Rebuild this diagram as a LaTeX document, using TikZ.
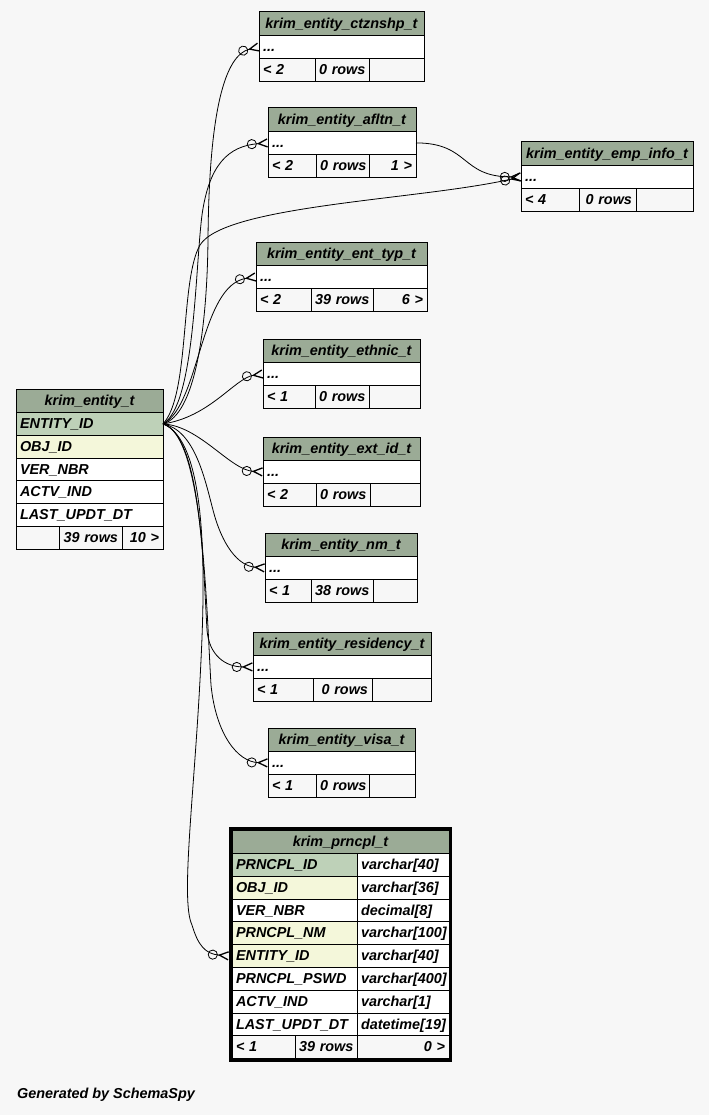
\documentclass[tikz,border=0pt]{standalone}
\usepackage{fontspec}
\setmainfont{Liberation Sans}
\usetikzlibrary{arrows.meta,positioning,fit}

\definecolor{bg}{HTML}{F7F7F7}
\definecolor{headbg}{HTML}{9BAB96}
\definecolor{pkbg}{HTML}{BED1B8}
\definecolor{idxbg}{HTML}{F4F7DA}

\begin{document}
\begin{tikzpicture}[x=1pt, y=-1pt,
    font=\fontsize{14.4}{17}\selectfont\bfseries\itshape,
    cell/.style={draw, line width=1pt, fill=white, anchor=north west, outer sep=0pt,
      inner xsep=4pt, inner ysep=0pt, text width=#1-8pt, align=left,
      minimum height=22.8pt, text height=11pt, text depth=2pt},
    hd/.style={cell=#1, fill=headbg, minimum height=23.5pt, align=center},
    ft/.style={cell=#1, fill=bg},
    ftr/.style={ft=#1, align=right}]
  \fill[bg] (0,0) rectangle (709,1115);
  \useasboundingbox (0,0) rectangle (709,1115);

  \node[hd=147] (ent) at (16,389) {krim\_entity\_t};
  \node[cell=147, fill=pkbg] (entID) at (ent.south west) {ENTITY\_ID};
  \node[cell=147, fill=idxbg] (entOBJ) at (entID.south west) {OBJ\_ID};
  \node[cell=147] (entVER) at (entOBJ.south west) {VER\_NBR};
  \node[cell=147] (entACTV) at (entVER.south west) {ACTV\_IND};
  \node[cell=147] (entLAST) at (entACTV.south west) {LAST\_UPDT\_DT};
  \node[ft=43] (entF1) at (entLAST.south west) {};
  \node[ftr=63] (entF2) at (entF1.north east) {39~rows};
  \node[ftr=41] (entF3) at (entF2.north east) {10~>};

  \node[hd=165] (ctz) at (259,12) {krim\_entity\_ctznshp\_t};
  \node[cell=165] (ctzR) at (ctz.south west) {...};
  \node[ft=56] (ctzF1) at (ctzR.south west) {<~2};
  \node[ftr=54] (ctzF2) at (ctzF1.north east) {0~rows};
  \node[ftr=55] (ctzF3) at (ctzF2.north east) {};

  \node[hd=148] (afl) at (268,108) {krim\_entity\_afltn\_t};
  \node[cell=148] (aflR) at (afl.south west) {...};
  \node[ft=48] (aflF1) at (aflR.south west) {<~2};
  \node[ftr=53] (aflF2) at (aflF1.north east) {0~rows};
  \node[ftr=47] (aflF3) at (aflF2.north east) {1~>};

  \node[hd=172] (emp) at (521,142) {krim\_entity\_emp\_info\_t};
  \node[cell=172] (empR) at (emp.south west) {...};
  \node[ft=58] (empF1) at (empR.south west) {<~4};
  \node[ftr=57] (empF2) at (empF1.north east) {0~rows};
  \node[ftr=57] (empF3) at (empF2.north east) {};

  \node[hd=171] (typ) at (256,242) {krim\_entity\_ent\_typ\_t};
  \node[cell=171] (typR) at (typ.south west) {...};
  \node[ft=55] (typF1) at (typR.south west) {<~2};
  \node[ftr=62] (typF2) at (typF1.north east) {39~rows};
  \node[ftr=54] (typF3) at (typF2.north east) {6~>};

  \node[hd=157] (eth) at (263,339) {krim\_entity\_ethnic\_t};
  \node[cell=157] (ethR) at (eth.south west) {...};
  \node[ft=52] (ethF1) at (ethR.south west) {<~1};
  \node[ftr=54] (ethF2) at (ethF1.north east) {0~rows};
  \node[ftr=51] (ethF3) at (ethF2.north east) {};

  \node[hd=157] (ext) at (263,437) {krim\_entity\_ext\_id\_t};
  \node[cell=157] (extR) at (ext.south west) {...};
  \node[ft=53] (extF1) at (extR.south west) {<~2};
  \node[ftr=54] (extF2) at (extF1.north east) {0~rows};
  \node[ftr=50] (extF3) at (extF2.north east) {};

  \node[hd=152] (nm) at (265,533) {krim\_entity\_nm\_t};
  \node[cell=152] (nmR) at (nm.south west) {...};
  \node[ft=46] (nmF1) at (nmR.south west) {<~1};
  \node[ftr=62] (nmF2) at (nmF1.north east) {38~rows};
  \node[ftr=44] (nmF3) at (nmF2.north east) {};

  \node[hd=178] (res) at (253,632) {krim\_entity\_residency\_t};
  \node[cell=178] (resR) at (res.south west) {...};
  \node[ft=60] (resF1) at (resR.south west) {<~1};
  \node[ftr=59] (resF2) at (resF1.north east) {0~rows};
  \node[ftr=59] (resF3) at (resF2.north east) {};

  \node[hd=147] (visa) at (268,728) {krim\_entity\_visa\_t};
  \node[cell=147] (visaR) at (visa.south west) {...};
  \node[ft=48] (visaF1) at (visaR.south west) {<~1};
  \node[ftr=53] (visaF2) at (visaF1.north east) {0~rows};
  \node[ftr=46] (visaF3) at (visaF2.north east) {};

  \node[hd=217] (prn) at (232,830) {krim\_prncpl\_t};
  \node[cell=125, fill=pkbg] (prnID) at (prn.south west) {PRNCPL\_ID};
  \node[cell=92] (prnIDt) at (prnID.north east) {varchar[40]};
  \node[cell=125, fill=idxbg] (prnOBJ) at (prnID.south west) {OBJ\_ID};
  \node[cell=92] (prnOBJt) at (prnOBJ.north east) {varchar[36]};
  \node[cell=125] (prnVER) at (prnOBJ.south west) {VER\_NBR};
  \node[cell=92] (prnVERt) at (prnVER.north east) {decimal[8]};
  \node[cell=125, fill=idxbg] (prnNM) at (prnVER.south west) {PRNCPL\_NM};
  \node[cell=92] (prnNMt) at (prnNM.north east) {varchar[100]};
  \node[cell=125, fill=idxbg] (prnEID) at (prnNM.south west) {ENTITY\_ID};
  \node[cell=92] (prnEIDt) at (prnEID.north east) {varchar[40]};
  \node[cell=125] (prnPSWD) at (prnEID.south west) {PRNCPL\_PSWD};
  \node[cell=92] (prnPSWDt) at (prnPSWD.north east) {varchar[400]};
  \node[cell=125] (prnACTV) at (prnPSWD.south west) {ACTV\_IND};
  \node[cell=92] (prnACTVt) at (prnACTV.north east) {varchar[1]};
  \node[cell=125] (prnLAST) at (prnACTV.south west) {LAST\_UPDT\_DT};
  \node[cell=92] (prnLASTt) at (prnLAST.north east) {datetime[19]};
  \node[ft=63] (prnF1) at (prnLAST.south west) {<~1};
  \node[ftr=62] (prnF2) at (prnF1.north east) {39~rows};
  \node[ftr=92] (prnF3) at (prnF2.north east) {0~>};
  \node[draw, line width=3pt, inner sep=1.5pt, fit=(prn)(prnF3)] (prnBox) {};

  \node[anchor=base west, inner sep=0pt] (gen) at (17,1098) {Generated by SchemaSpy};

  \tikzset{fk/.style={line width=0.8pt,
      -{Circle[open,length=10pt,width=10pt]Straight Barb[reversed,length=9pt,width=8pt,line width=1.3pt]}}}
  \draw[fk] (entID.east) .. controls (195,415) and (207,330) .. (208,240)
    .. controls (209,110) and (225,55) .. (ctzR.west);
  \draw[fk] (entID.east) .. controls (195,405) and (195,270) .. (202,215)
    .. controls (209,165) and (228,146) .. (aflR.west);
  \draw[fk] (entID.east) .. controls (190,395) and (180,280) .. (200,245)
    .. controls (225,205) and (420,200) .. (empR.west);
  \draw[fk] (aflR.east) .. controls (470,143) and (460,177) .. (empR.west);
  \draw[fk] (entID.east) .. controls (200,405) and (200,285) .. (typR.west);
  \draw[fk] (entID.east) .. controls (210,417) and (235,378) .. (ethR.west);
  \draw[fk] (entID.east) .. controls (200,426) and (230,470) .. (extR.west);
  \draw[fk] (entID.east) .. controls (195,430) and (205,480) .. (213,510)
    .. controls (222,545) and (238,566) .. (nmR.west);
  \draw[fk] (entID.east) .. controls (200,435) and (203,560) .. (207,630)
    .. controls (209,655) and (225,667) .. (resR.west);
  \draw[fk] (entID.east) .. controls (203,435) and (206,600) .. (211,685)
    .. controls (216,735) and (238,762) .. (visaR.west);
  \draw[fk, shorten >=3pt] (entID.east) .. controls (205,440) and (206,560) .. (201,660)
    .. controls (195,790) and (180,900) .. (192,925)
    .. controls (198,945) and (205,954) .. (prnEID.west);
\end{tikzpicture}
\end{document}
